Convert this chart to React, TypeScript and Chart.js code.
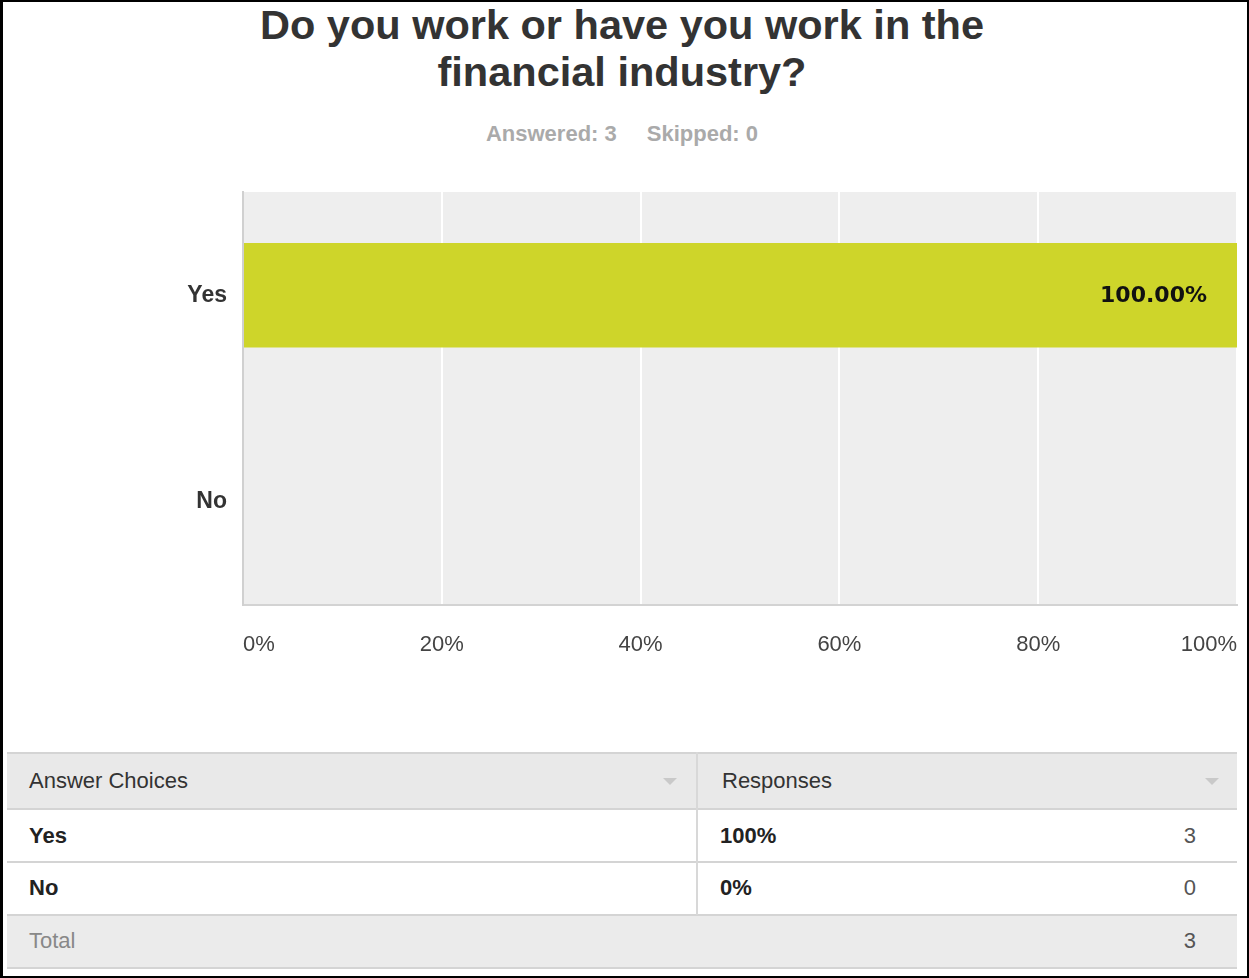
import React, { useEffect, useRef } from "react";
import { Chart, registerables } from "chart.js";

Chart.register(...registerables);

const titleLines = ["Do you work or have you work in the", "financial industry?"];
const answeredCount = 3;
const skippedCount = 0;
const categories = ["Yes", "No"];
const percentValues = [100, 0];
const responseCounts = [3, 0];
const totalResponses = 3;
const xTickStep = 20;
const xMax = 100;

const FONT = '"Liberation Sans", Arial, Helvetica, sans-serif';

const plotBackground = {
  id: "plotBackground",
  beforeDraw(chart: any) {
    const { ctx, chartArea: a } = chart;
    ctx.save();
    ctx.fillStyle = "#eeeeee";
    ctx.fillRect(a.left, a.top, a.right - a.left, a.bottom - a.top);
    ctx.restore();
  },
};

const barValueLabels = {
  id: "barValueLabels",
  afterDatasetsDraw(chart: any) {
    const meta = chart.getDatasetMeta(0);
    const ctx = chart.ctx;
    ctx.save();
    ctx.font = 'bold 22px "DejaVu Sans", Verdana, sans-serif';
    ctx.fillStyle = "#111111";
    ctx.textAlign = "right";
    ctx.textBaseline = "middle";
    meta.data.forEach((el: any, i: number) => {
      const v = percentValues[i];
      if (!v) return;
      ctx.fillText(v.toFixed(2) + "%", el.x - 30, el.y + 1);
    });
    ctx.restore();
  },
};

function zeroPadding(s: any) {
  s.paddingLeft = 0;
  s.paddingRight = 0;
  s.paddingTop = 0;
  s.paddingBottom = 0;
}

function BarChart() {
  const ref = useRef<HTMLCanvasElement | null>(null);
  useEffect(() => {
    if (!ref.current) return;
    Chart.defaults.font.family = FONT;
    const chart = new Chart(ref.current, {
      type: "bar",
      data: {
        labels: categories,
        datasets: [
          {
            data: percentValues,
            backgroundColor: "#ced52a",
            borderWidth: 0,
            categoryPercentage: 1,
            barPercentage: 0.505,
          },
        ],
      },
      options: {
        indexAxis: "y",
        animation: false,
        responsive: false,
        maintainAspectRatio: false,
        layout: { padding: { top: 10, right: 12, left: 0, bottom: 0 } },
        plugins: {
          legend: { display: false },
          tooltip: { enabled: false },
          title: { display: false },
        },
        scales: {
          x: {
            type: "linear",
            min: 0,
            max: xMax,
            position: "bottom",
            afterFit: (s: any) => {
              s.height = 75;
              zeroPadding(s);
            },
            ticks: {
              stepSize: xTickStep,
              callback: (v: any) => v + "%",
              align: "inner",
              padding: 27,
              color: "#444444",
              font: { size: 22, family: FONT },
            },
            grid: { color: "#ffffff", lineWidth: 2, drawTicks: false },
            border: { display: true, color: "#d3d3d3", width: 2 },
          },
          y: {
            type: "category",
            afterFit: (s: any) => {
              s.width = 243;
              zeroPadding(s);
            },
            ticks: {
              padding: 16,
              color: "#333333",
              font: { size: 23, weight: "bold", family: FONT },
            },
            grid: { display: false, drawTicks: false },
            border: { display: true, color: "#d0d0d0", width: 2 },
          },
        },
      },
      plugins: [plotBackground, barValueLabels],
    } as any);
    return () => chart.destroy();
  }, []);
  return (
    <canvas
      ref={ref}
      width={1249}
      height={498}
      style={{ position: "absolute", left: 0, top: 182, width: 1249, height: 498 }}
    />
  );
}

function Triangle({ left, top }: { left: number; top: number }) {
  return (
    <div
      style={{
        position: "absolute",
        left,
        top,
        width: 0,
        height: 0,
        borderLeft: "7px solid transparent",
        borderRight: "7px solid transparent",
        borderTop: "7px solid #c9c9c9",
      }}
    />
  );
}

function Cell({
  left,
  cy,
  text,
  bold,
  color,
  align,
  width,
}: {
  left: number;
  cy: number;
  text: string;
  bold?: boolean;
  color: string;
  align?: "left" | "right";
  width?: number;
}) {
  return (
    <div
      style={{
        position: "absolute",
        left,
        top: cy - 15,
        height: 30,
        lineHeight: "30px",
        width: width ?? 400,
        textAlign: align ?? "left",
        fontSize: 22,
        fontWeight: bold ? "bold" : "normal",
        color,
        whiteSpace: "nowrap",
      }}
    >
      {text}
    </div>
  );
}

function HLine({ top }: { top: number }) {
  return (
    <div style={{ position: "absolute", left: 7, top, width: 1230, height: 2, background: "#d4d4d4" }} />
  );
}

export default function App() {
  const rowCenters = [836, 888];
  return (
    <div
      style={{
        position: "absolute",
        left: 0,
        top: 0,
        width: 1249,
        height: 978,
        background: "#ffffff",
        fontFamily: FONT,
        overflow: "hidden",
      }}
    >
      <div
        style={{
          position: "absolute",
          left: 0,
          top: 1,
          width: 1244,
          textAlign: "center",
          fontSize: 41.5,
          fontWeight: "bold",
          lineHeight: "47px",
          color: "#333333",
        }}
      >
        {titleLines[0]}
        <br />
        {titleLines[1]}
      </div>
      <div
        style={{
          position: "absolute",
          left: 0,
          top: 122,
          width: 1244,
          textAlign: "center",
          fontSize: 22,
          fontWeight: "bold",
          lineHeight: "24px",
          color: "#aaaaaa",
          whiteSpace: "nowrap",
        }}
      >
        <span>Answered: {answeredCount}</span>
        <span style={{ display: "inline-block", width: 30 }} />
        <span>Skipped: {skippedCount}</span>
      </div>

      <BarChart />

      {/* table */}
      <div style={{ position: "absolute", left: 7, top: 752, width: 1230, height: 58, background: "#e9e9e9" }} />
      <div style={{ position: "absolute", left: 7, top: 915, width: 1230, height: 54, background: "#ebebeb" }} />
      <HLine top={752} />
      <HLine top={808} />
      <HLine top={861} />
      <HLine top={914} />
      <HLine top={967} />
      <div style={{ position: "absolute", left: 696, top: 752, width: 2, height: 163, background: "#d8d8d8" }} />
      <Cell left={29} cy={781} text="Answer Choices" color="#333333" />
      <Cell left={722} cy={781} text="Responses" color="#333333" />
      <Triangle left={663} top={778} />
      <Triangle left={1205} top={778} />
      {categories.map((c, i) => (
        <React.Fragment key={c}>
          <Cell left={29} cy={rowCenters[i]} text={c} bold color="#222222" />
          <Cell left={720} cy={rowCenters[i]} text={percentValues[i] + "%"} bold color="#222222" />
          <Cell left={896} cy={rowCenters[i]} width={300} align="right" text={String(responseCounts[i])} color="#555555" />
        </React.Fragment>
      ))}
      <Cell left={29} cy={941} text="Total" color="#888888" />
      <Cell left={896} cy={941} width={300} align="right" text={String(totalResponses)} color="#555555" />

      <div
        style={{
          position: "absolute",
          left: 0,
          top: 0,
          width: 1249,
          height: 978,
          boxSizing: "border-box",
          borderTop: "2px solid #000",
          borderLeft: "3px solid #000",
          borderRight: "2px solid #000",
          borderBottom: "2px solid #000",
          pointerEvents: "none",
        }}
      />
    </div>
  );
}
